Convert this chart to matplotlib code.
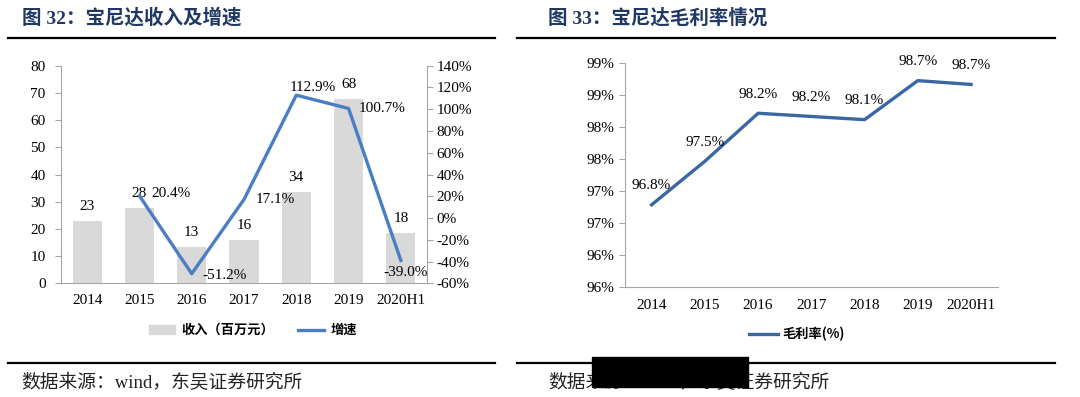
import matplotlib
matplotlib.use('Agg')
import math
import matplotlib.pyplot as plt
from matplotlib.lines import Line2D
from matplotlib.patches import Patch, Rectangle
from matplotlib.ticker import FuncFormatter, MultipleLocator

# data
years = ['2014', '2015', '2016', '2017', '2018', '2019', '2020H1']
revenue = [22.9, 27.6, 13.4, 15.9, 33.7, 67.8, 18.4]      # 收入（百万元）
growth = [None, 20.4, -51.2, 17.1, 112.9, 100.7, -39.0]   # 增速 %
margin = [96.78, 97.46, 98.21, 98.16, 98.11, 98.72, 98.66]  # 毛利率 %

serif_cjk = ['Liberation Serif', 'Noto Sans CJK SC']
cjk = ['Noto Sans CJK SC', 'Liberation Serif']
plt.rcParams['font.family'] = serif_cjk

W, H = 1080, 397
fig = plt.figure(figsize=(W / 100, H / 100), dpi=100)

navy = '#1F3864'
spine_c = '#A6A6A6'
bar_c = '#D9D9D9'
blue1 = '#4A7EC4'
blue2 = '#3A67A3'
fs = 11


def fx(px):
    return px / W


def fy(py):
    return 1 - py / H


def rule(x0, x1, y):
    fig.add_artist(Line2D([fx(x0), fx(x1)], [fy(y), fy(y)],
                          transform=fig.transFigure, color='black', lw=1.6))


# ---------- left chart ----------
ax = fig.add_axes([fx(61), fy(283.3), fx(427 - 61), (283.3 - 65.7) / H])
xs = list(range(len(years)))
ax.bar(xs, revenue, width=0.56, color=bar_c, zorder=1)
ax.set_xlim(-0.5, 6.5)
ax.set_ylim(0, 80)
ax.yaxis.set_major_locator(MultipleLocator(10))
ax.set_xticks(xs)
ax.set_xticklabels(years)
for s in ['top', 'right']:
    ax.spines[s].set_visible(False)
for s in ['left', 'bottom']:
    ax.spines[s].set_color(spine_c)
ax.tick_params(axis='y', length=4, color=spine_c, pad=7, labelsize=fs)
ax.tick_params(axis='x', length=0, pad=8, labelsize=fs)
for x, v in zip(xs, revenue):
    ax.annotate(f'{v:.0f}', (x, v), xytext=(0, 10.5), textcoords='offset points',
                ha='center', va='center', fontsize=fs)

ax2 = ax.twinx()
gx = [x for x, g in zip(xs, growth) if g is not None]
gy = [g for g in growth if g is not None]
ax2.plot(gx, gy, color=blue1, lw=2.4, zorder=3)
ax2.set_ylim(-60, 140)
ax2.yaxis.set_major_locator(MultipleLocator(20))
ax2.yaxis.set_major_formatter(FuncFormatter(lambda v, p: f'{v:.0f}%'))
for s in ['top', 'left', 'bottom']:
    ax2.spines[s].set_visible(False)
ax2.spines['right'].set_color(spine_c)
ax2.tick_params(axis='y', length=4, color=spine_c, pad=3, labelsize=fs)
g_off = [(23, 2), (24, -1), (22.5, 0), (11.6, 5.7), (24, 0), (3.6, -8.8)]
for x, v, off in zip(gx, gy, g_off):
    ax2.annotate(f'{v:.1f}%', (x, v), xytext=off, textcoords='offset points',
                 ha='center', va='center', fontsize=fs)

fig.legend(handles=[Patch(color=bar_c), Line2D([], [], color=blue1, lw=2.4)],
           labels=['收入（百万元）', '增速'], loc='center',
           bbox_to_anchor=(fx(253), fy(330)), ncol=2, frameon=False,
           prop={'family': cjk, 'weight': 'bold', 'size': 9.5},
           handlelength=2.0, handleheight=0.6, columnspacing=1.8, handletextpad=0.5)

# ---------- right chart ----------
bx = fig.add_axes([fx(625), fy(286.7), fx(997.7 - 625), (286.7 - 62.7) / H])
bx.plot(xs, margin, color=blue2, lw=2.4)
bx.set_xlim(-0.5, 6.5)
bx.set_ylim(95.5, 99.0)
bx.yaxis.set_major_locator(MultipleLocator(0.5))
bx.yaxis.set_major_formatter(FuncFormatter(lambda v, p: f'{int(math.floor(v + 0.5))}%'))
bx.set_xticks(xs)
bx.set_xticklabels(years)
for s in ['top', 'right']:
    bx.spines[s].set_visible(False)
for s in ['left', 'bottom']:
    bx.spines[s].set_color(spine_c)
bx.tick_params(axis='y', length=4, color=spine_c, pad=4, labelsize=fs)
bx.tick_params(axis='x', length=0, pad=9, labelsize=fs)
for x, v in zip(xs, margin):
    bx.annotate(f'{v:.1f}%', (x, v), xytext=(0, 13.7), textcoords='offset points',
                ha='center', va='center', fontsize=fs)

fig.legend(handles=[Line2D([], [], color=blue2, lw=2.4)], labels=['毛利率(%)'],
           loc='center', bbox_to_anchor=(fx(797), fy(334)), frameon=False,
           prop={'family': cjk, 'weight': 'bold', 'size': 9.5},
           handlelength=2.2, handletextpad=0.3)

# ---------- titles, rules, source ----------
fig.text(fx(22), fy(17.5), '图 32：宝尼达收入及增速', ha='left', va='center',
         fontsize=14, weight='bold', color=navy, family=serif_cjk)
fig.text(fx(548), fy(17.5), '图 33：宝尼达毛利率情况', ha='left', va='center',
         fontsize=14, weight='bold', color=navy, family=serif_cjk)
rule(8, 495, 37.7)
rule(8, 495, 362.7)
rule(517, 1055, 37.7)
rule(517, 1055, 362.7)
fig.text(fx(21), fy(383), '数据来源：wind，东吴证券研究所', ha='left', va='center',
         fontsize=13.5, color='#222222', family=serif_cjk)
fig.text(fx(548), fy(383), '数据来源：wind，东吴证券研究所', ha='left', va='center',
         fontsize=13.5, color='#222222', family=serif_cjk)
fig.add_artist(Rectangle((fx(592), fy(386.7)), fx(748 - 592), (386.7 - 356.7) / H,
                         transform=fig.transFigure, color='black', zorder=5))

fig.savefig('out.png', dpi=100)
